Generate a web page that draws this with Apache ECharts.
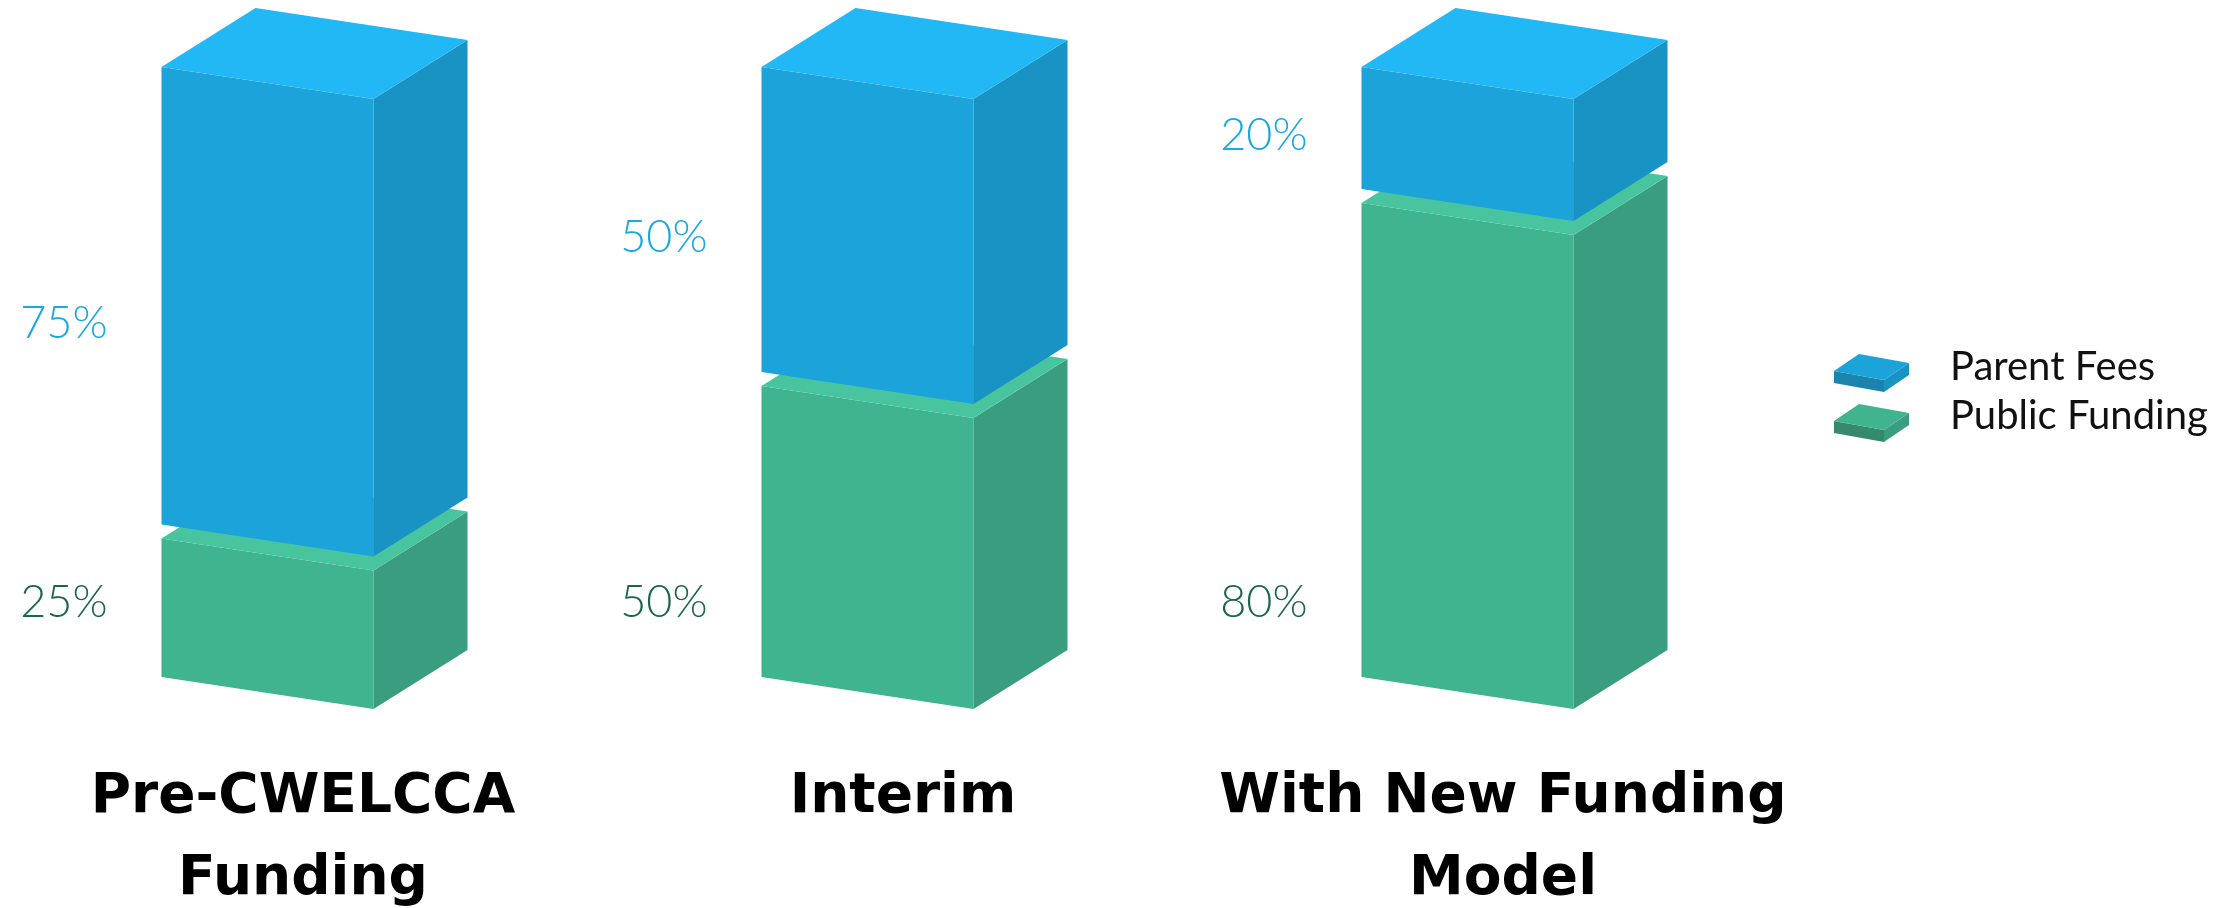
<!DOCTYPE html>
<html>
<head>
<meta charset="utf-8">
<script src="https://cdn.jsdelivr.net/npm/echarts@6/dist/echarts.min.js"></script>
<style>
html,body{margin:0;padding:0;background:#fff;}
#c{width:2238px;height:908px;}
</style>
</head>
<body>
<div id="c"></div>
<script>
// ---- data ----
const categories = ['Pre-CWELCCA\nFunding', 'Interim', 'With New Funding\nModel'];
const publicFunding = [25, 50, 80];
const parentFees = [75, 50, 20];
const seriesNames = ['Public Funding', 'Parent Fees'];

// ---- style ----
const BOX_W = 212, SLANT = 32, DX = 94, DY = -59, GAP = 14;
const COLORS = {
  'Parent Fees': { top: '#21B8F5', front: '#1CA3D9', side: '#1993C4', label: '#1AA8E4', iconFront: '#1A84AE' },
  'Public Funding': { top: '#48C59E', front: '#40B38F', side: '#3A9D80', label: '#1B6650', iconFront: '#37896E' }
};
const LABEL_FONT = 'Lato, "Open Sans", sans-serif';

function makeRender(name, isBottom) {
  const c = COLORS[name];
  return function (params, api) {
    const idx = api.value(0);
    const start = api.value(1), end = api.value(2);
    const cx = api.coord([idx, 0])[0];
    const yBase = api.coord([idx, 0])[1];
    let yTop = api.coord([idx, end])[1];
    const yBot = api.coord([idx, start])[1];
    if (isBottom) yTop += GAP;
    const fl = cx - 152.5;
    const fr = fl + BOX_W;
    const front = [[fl, yTop], [fr, yTop + SLANT], [fr, yBot + SLANT], [fl, yBot]];
    const side = [[fr, yTop + SLANT], [fr + DX, yTop + SLANT + DY], [fr + DX, yBot + SLANT + DY], [fr, yBot + SLANT]];
    const top = [[fl, yTop], [fr, yTop + SLANT], [fr + DX, yTop + SLANT + DY], [fl + DX, yTop + DY]];
    const labelY = isBottom ? yBase - 75 : yTop + (yBot - yTop) * 0.56;
    return {
      type: 'group',
      children: [
        { type: 'polygon', shape: { points: front }, style: { fill: c.front } },
        { type: 'polygon', shape: { points: side }, style: { fill: c.side } },
        { type: 'polygon', shape: { points: top }, style: { fill: c.top } },
        { type: 'text', style: {
            text: (end - start) + '%', x: fl - 54, y: labelY,
            align: 'right', verticalAlign: 'middle',
            fill: c.label, fontSize: 45, fontWeight: 300, fontFamily: LABEL_FONT } }
      ]
    };
  };
}

const greenData = publicFunding.map((v, i) => [i, 0, v]);
const blueData = parentFees.map((v, i) => [i, publicFunding[i], publicFunding[i] + v]);

function legendIcon(x, y, name) {
  const c = COLORS[name];
  const w = 50, s = 9, dx = 25, dy = -17, t = 12;
  return [
    { type: 'polygon', shape: { points: [[x, y], [x + w, y + s], [x + w, y + s + t], [x, y + t]] }, style: { fill: c.iconFront } },
    { type: 'polygon', shape: { points: [[x + w, y + s], [x + w + dx, y + s + dy], [x + w + dx, y + s + dy + t], [x + w, y + s + t]] }, style: { fill: c.side } },
    { type: 'polygon', shape: { points: [[x, y], [x + w, y + s], [x + w + dx, y + s + dy], [x + dx, y + dy]] }, style: { fill: c.front } }
  ];
}

const chart = echarts.init(document.getElementById('c'), null, { renderer: 'canvas' });
chart.setOption({
  animation: false,
  backgroundColor: '#ffffff',
  grid: { left: 14, width: 1800, top: 67, bottom: 231, outerBoundsMode: 'none', containLabel: false },
  xAxis: {
    type: 'category', data: categories,
    axisLine: { show: false }, axisTick: { show: false }, splitLine: { show: false },
    axisLabel: {
      interval: 0, hideOverlap: false,
      margin: 80, color: '#000', fontSize: 55, fontWeight: 'bold',
      fontFamily: '"DejaVu Sans", sans-serif', lineHeight: 82, verticalAlign: 'top',
      padding: [0, 22, 0, 0]
    }
  },
  yAxis: { type: 'value', min: 0, max: 100, show: false },
  series: [
    { name: seriesNames[0], type: 'custom', renderItem: makeRender(seriesNames[0], true), encode: { x: 0, y: [1, 2] }, data: greenData },
    { name: seriesNames[1], type: 'custom', renderItem: makeRender(seriesNames[1], false), encode: { x: 0, y: [1, 2] }, data: blueData }
  ],
  graphic: [
    { type: 'group', children: legendIcon(1834, 371, 'Parent Fees') },
    { type: 'group', children: legendIcon(1834, 421, 'Public Funding') },
    { type: 'text', style: { text: 'Parent Fees', x: 1950, y: 367, verticalAlign: 'middle', fill: '#111', fontSize: 40, fontFamily: LABEL_FONT } },
    { type: 'text', style: { text: 'Public Funding', x: 1950, y: 416, verticalAlign: 'middle', fill: '#111', fontSize: 40, fontFamily: LABEL_FONT } }
  ]
});
</script>
</body>
</html>
